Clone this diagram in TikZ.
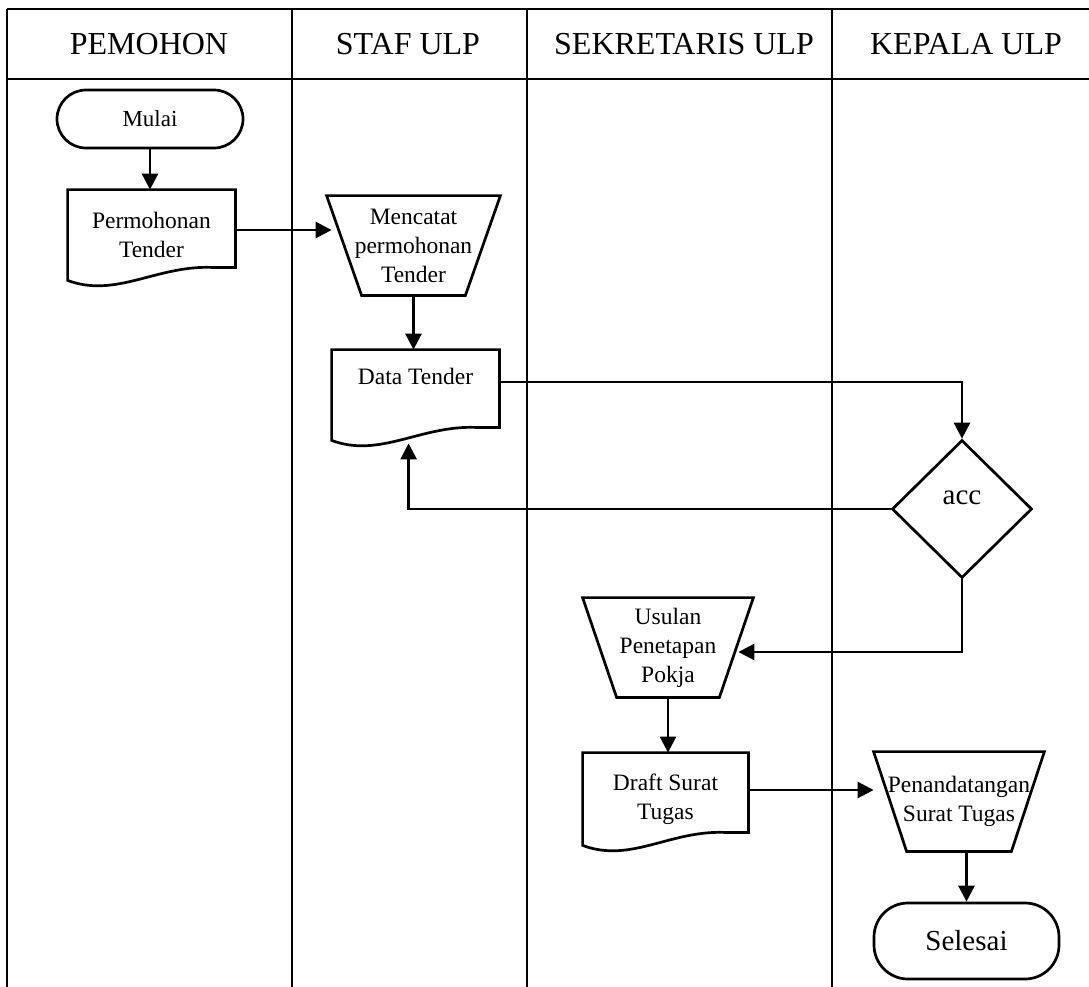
\documentclass[tikz,border=0pt]{standalone}
\usepackage{fontspec}
\setmainfont{Liberation Serif}
\usetikzlibrary{arrows.meta,calc,shapes.geometric}

% document symbol: straight top and sides, wavy bottom edge
\newcommand\docoutline[1]{%
  \draw[outline] (#1.north west) -- (#1.north east)
    -- ($(#1.south east)+(0,-13)$) -- ($(#1.south east)+(-24,-13)$)
    .. controls ($(#1.south east)+(-79,-15)$) and ($(#1.south west)+(48,18)$) .. (#1.south west)
    -- cycle;}
% manual operation symbol: trapezium, wide side on top
\newcommand\trapoutline[2]{%
  \draw[outline] (#1.north west) -- (#1.north east)
    -- ($(#1.south east)+(-#2,0)$) -- ($(#1.south west)+(#2,0)$) -- cycle;}

\begin{document}
\begin{tikzpicture}[x=0.5pt,y=-0.5pt,
  grid/.style={line width=1.35pt},
  outline/.style={line width=1.35pt, line join=miter},
  flow/.style={line width=1.35pt, -{Triangle[length=8pt,width=8pt]}},
  body/.style={font=\fontsize{11.75}{14.5}\selectfont, align=center, inner sep=0pt},
  head/.style={font=\fontsize{16}{19}\selectfont, inner sep=0pt},
  docbox/.style={body, minimum width=83.5pt, minimum height=45pt},
  trapbox/.style={body, minimum width=85pt, minimum height=49.5pt},
  terminal/.style={draw, outline, body}
]
\useasboundingbox (0,0) rectangle (1089,987);

% swimlane table
\draw[grid] (7,9) -- (1089,9);
\draw[grid] (7,79) -- (1089,79);
\foreach \lx in {7,292,527,832} \draw[grid] (\lx,9) -- (\lx,987);

\node[head] (lane1) at (149,44) {PEMOHON};
\node[head] (lane2) at (408,44) {STAF ULP};
\node[head] (lane3) at (684,44) {SEKRETARIS ULP};
\node[head] (lane4) at (966,44) {KEPALA ULP};

% process symbols
\node[terminal, rounded corners=14.5pt, minimum width=93pt, minimum height=29pt,
      font=\fontsize{11.5}{14}\selectfont] (start) at (150,119) {Mulai};

\node[docbox] (perm) at (151.5,235) {Permohonan\\Tender};
\docoutline{perm}

\node[trapbox, minimum width=86.5pt] (menc) at (413.5,245.5) {Mencatat\\permohonan\\Tender};
\trapoutline{menc}{35}

\node[docbox, text depth=19pt] (dt) at (415.5,395) {Data Tender};
\docoutline{dt}

\node[diamond, draw, outline, minimum width=70pt, minimum height=69pt, inner sep=0pt,
      font=\fontsize{14.5}{17}\selectfont, text depth=11pt] (acc) at (962,509) {acc};

\node[trapbox] (usu) at (668,647.5) {Usulan\\Penetapan\\Pokja};
\trapoutline{usu}{34}

\node[docbox, minimum width=82.5pt, minimum height=46pt] (draft) at (665.5,799) {Draft Surat\\Tugas};
\docoutline{draft}

\node[trapbox] (pen) at (959,801.5) {Penandatangan\\Surat Tugas};
\trapoutline{pen}{33}

\node[terminal, rounded corners=17pt, minimum width=92.5pt, minimum height=38pt,
      font=\fontsize{14.5}{17}\selectfont] (sel) at (966.5,941) {Selesai};

% connectors
\draw[flow] (start.south) -- (start.south |- perm.north);
\draw[flow] ($(perm.east)+(0,-5)$) -- ($(menc.west |- perm.east)+(5,-5)$);
\draw[flow] (menc.south) -- (menc.south |- dt.north);
\draw[flow] ($(dt.east)+(0,-13)$) -| (acc.north);
\draw[flow] (acc.west) -| ($(dt.south west)+(77,3)$);
\draw[flow] (acc.south) |- ($(usu.east)+(-15,4.5)$);
\draw[flow] (usu.south) -- (usu.south |- draft.north);
\draw[flow] ($(draft.east)+(0,-9)$) -- ($(pen.west |- draft.east)+(0,-9)$);
\draw[flow] (sel.north |- pen.south) -- (sel.north);
\end{tikzpicture}
\end{document}
